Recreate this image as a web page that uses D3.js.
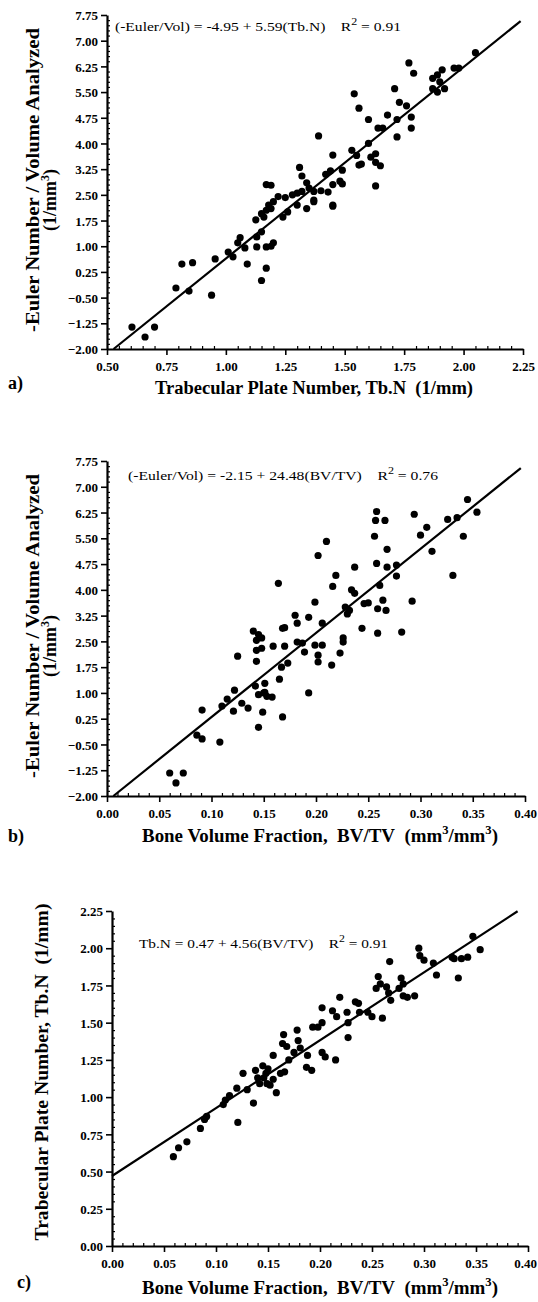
<!DOCTYPE html>
<html>
<head>
<meta charset="utf-8">
<script src="https://cdn.jsdelivr.net/npm/d3@7"></script>
<style>
  body { margin: 0; background: #fff; }
  svg text { font-family: "Liberation Serif", "Times New Roman", serif; fill: #000; }
  .tick text { font-weight: bold; font-size: 13px; }
  .lab { font-weight: bold; font-size: 18px; }
  .eq { font-size: 13px; }
</style>
</head>
<body>
<script>
// ---- data ----
// a) -Euler/Vol against Tb.N
var aTbN = [0.605,0.66,0.70,0.79,0.815,0.86,0.845,0.94,0.955,1.01,1.03,1.05,1.06,1.08,1.09,1.13,1.13,1.126,1.15,1.17,
  1.16,1.17,1.15,1.17,1.19,1.20,1.15,1.18,1.19,1.20,1.24,1.26,1.34,1.37,1.45,1.17,1.19,1.22,1.25,1.28,
  1.30,1.32,1.31,1.32,1.34,1.35,1.42,1.44,1.37,1.40,1.43,1.45,1.48,1.49,1.37,1.45,1.39,1.45,1.49,1.53,
  1.55,1.60,1.61,1.63,1.63,1.65,1.56,1.57,1.63,1.54,1.56,1.60,1.64,1.66,1.68,1.71,1.72,1.73,1.72,1.76,
  1.78,1.78,1.77,1.79,1.87,1.89,1.91,1.90,1.87,1.89,1.92,1.96,1.98,2.05,1.30];
var aEuler = [-1.36,-1.65,-1.36,-0.22,0.48,0.52,-0.31,-0.43,0.63,0.83,0.69,1.10,1.25,0.95,0.48,0.98,1.27,1.77,0.0,0.36,
  1.85,2.05,1.42,0.98,1.0,1.1,1.95,2.2,2.1,2.3,1.85,2.0,2.1,2.3,2.17,2.8,2.78,2.45,2.42,2.5,
  2.55,2.6,3.3,3.05,2.85,2.7,3.1,3.2,2.6,2.62,2.58,2.8,2.9,2.82,2.35,2.2,4.22,3.66,3.22,3.8,
  3.65,4.0,3.6,3.7,3.45,3.35,3.37,3.4,2.76,5.45,5.03,4.7,4.45,4.45,4.83,5.6,4.7,5.2,4.19,5.1,
  4.77,4.45,6.35,6.05,5.9,6.0,6.15,5.8,5.6,5.5,5.6,6.2,6.2,6.65,2.2];

// b) -Euler/Vol against BV/TV
var bBVTV = [0.060,0.066,0.073,0.086,0.091,0.091,0.108,0.110,0.115,0.121,0.122,0.125,0.129,0.135,0.143,0.143,0.142,0.145,0.150,0.153,
  0.145,0.149,0.143,0.140,0.145,0.151,0.151,0.158,0.165,0.167,0.173,0.168,0.193,0.159,0.170,0.182,0.187,0.189,0.199,0.206,
  0.202,0.202,0.215,0.223,0.226,0.226,0.244,0.259,0.282,0.168,0.170,0.180,0.182,0.193,0.206,0.199,0.164,0.228,0.230,0.232,
  0.246,0.250,0.259,0.264,0.267,0.234,0.237,0.216,0.219,0.237,0.202,0.210,0.258,0.268,0.277,0.277,0.261,0.292,0.256,0.268,
  0.258,0.257,0.266,0.294,0.306,0.300,0.311,0.326,0.335,0.345,0.354,0.341,0.331,0.148,0.148];
var bEuler = [-1.33,-1.62,-1.33,-0.23,-0.34,0.50,-0.43,0.62,0.82,0.47,1.08,2.07,0.70,0.56,2.24,1.92,1.20,0.95,1.0,0.9,
  0.0,0.44,2.53,2.8,2.7,1.28,1.02,0.88,1.4,1.75,1.87,0.30,1.0,2.36,2.36,2.48,2.45,2.19,2.39,2.39,
  2.10,1.90,1.81,2.16,2.48,2.6,2.88,2.74,2.77,2.88,2.9,3.26,3.03,3.2,3.03,3.64,4.19,3.5,3.3,3.4,
  3.6,3.62,3.45,3.7,3.4,4.0,3.9,4.1,4.42,4.66,5.0,5.41,4.77,4.66,4.72,4.4,4.13,3.67,5.56,5.18,
  6.28,6.02,6.02,6.2,5.82,5.59,5.12,6.05,6.1,6.63,6.26,5.56,4.42,2.3,2.6];

// c) Tb.N against BV/TV
var cBVTV = [0.059,0.064,0.072,0.085,0.091,0.089,0.121,0.107,0.109,0.113,0.120,0.130,0.136,0.142,0.149,0.152,0.158,0.126,0.138,0.145,
  0.148,0.150,0.146,0.155,0.162,0.166,0.165,0.164,0.168,0.178,0.179,0.181,0.188,0.187,0.192,0.202,0.205,0.215,0.193,0.198,
  0.202,0.202,0.212,0.216,0.219,0.227,0.227,0.226,0.234,0.237,0.238,0.246,0.250,0.260,0.267,0.256,0.258,0.254,0.264,0.266,
  0.268,0.278,0.280,0.276,0.280,0.284,0.291,0.295,0.296,0.300,0.309,0.312,0.327,0.329,0.336,0.342,0.333,0.347,0.354,0.140,
  0.155,0.170,0.175];
var cTbN = [0.60,0.66,0.70,0.79,0.87,0.85,0.83,0.95,0.98,1.01,1.06,1.05,0.96,1.09,1.09,1.08,1.03,1.16,1.18,1.21,
  1.16,1.19,1.13,1.28,1.16,1.17,1.42,1.36,1.34,1.45,1.38,1.33,1.28,1.20,1.18,1.30,1.27,1.25,1.47,1.47,
  1.50,1.60,1.58,1.54,1.67,1.50,1.40,1.57,1.64,1.63,1.57,1.57,1.54,1.53,1.91,1.81,1.76,1.73,1.74,1.70,
  1.65,1.80,1.76,1.73,1.68,1.67,1.68,2.0,1.95,1.92,1.90,1.82,1.94,1.93,1.93,1.94,1.80,2.08,1.99,1.13,
  1.12,1.25,1.30];

// regression coefficients printed on the figure
var fitA = [-4.95, 5.59], fitB = [-2.15, 24.48], fitC = [0.47, 4.56];

// tick values
var eulerTicks = [-2.00,-1.25,-0.50,0.25,1.00,1.75,2.50,3.25,4.00,4.75,5.50,6.25,7.00,7.75];
var tbnTicks = [0.50,0.75,1.00,1.25,1.50,1.75,2.00,2.25];
var bvtvTicks = [0.00,0.05,0.10,0.15,0.20,0.25,0.30,0.35,0.40];
var tbnYTicks = [0.00,0.25,0.50,0.75,1.00,1.25,1.50,1.75,2.00,2.25];

var svg = d3.select("body").append("svg")
    .attr("width", 538)
    .attr("height", 1302);
svg.append("rect").attr("width", 538).attr("height", 1302).attr("fill", "#fff");

// minor tick values between the majors
function minors(ticks, n) {
  var out = [];
  for (var i = 0; i < ticks.length - 1; i++) {
    var step = (ticks[i+1] - ticks[i]) / n;
    for (var k = 1; k < n; k++) out.push(ticks[i] + k * step);
  }
  return out;
}

function drawPanel(p) {
  var x = d3.scaleLinear().domain(p.xDom).range(p.xRange);
  var y = d3.scaleLinear().domain(p.yDom).range(p.yRange);
  var g = svg.append("g");

  // minor ticks point inwards
  g.append("g").attr("transform", "translate(0," + p.yRange[0] + ")")
    .call(d3.axisBottom(x).tickValues(minors(p.xTicks, 5)).tickSize(-3).tickFormat(""))
    .call(s => s.select(".domain").remove())
    .selectAll("line").attr("stroke-width", 1.2);
  g.append("g").attr("transform", "translate(" + p.xRange[0] + ",0)")
    .call(d3.axisLeft(y).tickValues(minors(p.yTicks, 5)).tickSize(-3).tickFormat(""))
    .call(s => s.select(".domain").remove())
    .selectAll("line").attr("stroke-width", 1.2);

  var xa = g.append("g").attr("transform", "translate(0," + p.yRange[0] + ")")
    .call(d3.axisBottom(x).tickValues(p.xTicks).tickSize(6).tickSizeOuter(0)
      .tickPadding(7).tickFormat(d3.format(".2f")));
  var ya = g.append("g").attr("transform", "translate(" + p.xRange[0] + ",0)")
    .call(d3.axisLeft(y).tickValues(p.yTicks).tickSize(6).tickSizeOuter(0)
      .tickPadding(3).tickFormat(d3.format(".2f")));
  [xa, ya].forEach(function(a) {
    a.select(".domain").attr("stroke-width", 2.2);
    a.selectAll(".tick line").attr("stroke-width", 1.6);
    a.selectAll(".tick text").attr("font-family", null).attr("font-size", null);
  });
  ya.selectAll(".tick text").attr("dy", "0.36em");
  // keep the last x label inside the page
  if (p.lastShift) {
    xa.selectAll(".tick text").filter(function(d, i, n) { return i === n.length - 1; })
      .attr("x", p.lastShift);
  }

  // fitted line
  var f = p.fit;
  var x0 = Math.max(p.xDom[0], (p.yDom[0] - f[0]) / f[1]);
  var x1 = p.lineEnd;
  g.append("line")
    .attr("x1", x(x0)).attr("y1", y(f[0] + f[1] * x0))
    .attr("x2", x(x1)).attr("y2", y(f[0] + f[1] * x1))
    .attr("stroke", "#000").attr("stroke-width", 2.2);

  // points
  g.selectAll(".dot").data(p.xs).enter().append("circle")
    .attr("cx", function(d) { return x(d); })
    .attr("cy", function(d, i) { return y(p.ys[i]); })
    .attr("r", 3.6).attr("fill", "#000");

  // equation
  var eq = g.append("text").attr("class", "eq")
    .attr("x", p.eqPos[0]).attr("y", p.eqPos[1])
    .attr("textLength", p.eqLen).attr("lengthAdjust", "spacingAndGlyphs");
  eq.append("tspan").text(p.eq + "\u00a0\u00a0\u00a0\u00a0R");
  eq.append("tspan").attr("dy", -6).attr("font-size", 10).text("2");
  eq.append("tspan").attr("dy", 6).text(" = " + p.r2);

  // x label
  var xl = g.append("text").attr("class", "lab")
    .attr("x", p.xLab[0]).attr("y", p.xLab[1])
    .attr("textLength", p.xLab[2]).attr("lengthAdjust", "spacingAndGlyphs");
  var prevSup = false;
  p.xLabParts.forEach(function(t) {
    if (t === "3") {
      xl.append("tspan").attr("dy", -8).attr("font-size", 12).text("3");
      prevSup = true;
    } else {
      var ts = xl.append("tspan").text(t);
      if (prevSup) ts.attr("dy", 8);
      prevSup = false;
    }
  });

  // y label (rotated)
  p.yLab.forEach(function(l) {
    var t = g.append("text").attr("class", "lab")
      .attr("transform", "translate(" + l.x + "," + l.y + ") rotate(-90)")
      .attr("text-anchor", "middle");
    l.parts.forEach(function(s) {
      if (s === "3") t.append("tspan").attr("dy", -7).attr("font-size", 12).text("3");
      else if (s === ")" && l.sup) t.append("tspan").attr("dy", 7).text(")");
      else t.append("tspan").text(s);
    });
    if (l.len) t.attr("textLength", l.len).attr("lengthAdjust", "spacingAndGlyphs");
  });

  g.append("text").attr("class", "lab").attr("x", p.tag[0]).attr("y", p.tag[1]).text(p.tag[2]);
}

var eulerLab = "-Euler Number / Volume Analyzed";

drawPanel({
  xDom: [0.5, 2.25], xRange: [107, 523], yDom: [-2, 7.75], yRange: [349, 15],
  xTicks: tbnTicks, yTicks: eulerTicks, fit: fitA, lineEnd: 2.24,
  xs: aTbN, ys: aEuler,
  eq: "(-Euler/Vol) = -4.95 + 5.59(Tb.N)", r2: "0.91", eqPos: [115, 31], eqLen: 286,
  xLab: [155, 394, 318], xLabParts: ["Trabecular Plate Number, Tb.N\u00a0\u00a0(1/mm)"],
  yLab: [{x: 39, y: 180, parts: [eulerLab], len: 304},
         {x: 56, y: 200, parts: ["(1/mm", "3", ")"], sup: true}],
  tag: [8, 389, "a)"]
});

drawPanel({
  xDom: [0, 0.4], xRange: [107, 525], yDom: [-2, 7.75], yRange: [796, 461],
  xTicks: bvtvTicks, yTicks: eulerTicks, fit: fitB, lineEnd: 0.396,
  xs: bBVTV, ys: bEuler,
  eq: "(-Euler/Vol) = -2.15 + 24.48(BV/TV)", r2: "0.76", eqPos: [128, 480], eqLen: 310,
  xLab: [142, 842, 356], xLabParts: ["Bone Volume Fraction,\u00a0\u00a0BV/TV\u00a0\u00a0(mm", "3", "/mm", "3", ")"],
  yLab: [{x: 39, y: 626, parts: [eulerLab], len: 304},
         {x: 56, y: 646, parts: ["(1/mm", "3", ")"], sup: true}],
  tag: [8, 842, "b)"]
});

drawPanel({
  xDom: [0, 0.4], xRange: [112, 528], yDom: [0, 2.25], yRange: [1246, 911],
  xTicks: bvtvTicks, yTicks: tbnYTicks, fit: fitC, lineEnd: 0.39,
  xs: cBVTV, ys: cTbN, lastShift: -3,
  eq: "Tb.N = 0.47 + 4.56(BV/TV)", r2: "0.91", eqPos: [139, 948], eqLen: 249,
  xLab: [142, 1294, 356], xLabParts: ["Bone Volume Fraction,\u00a0\u00a0BV/TV\u00a0\u00a0(mm", "3", "/mm", "3", ")"],
  yLab: [{x: 48, y: 1072, parts: ["Trabecular Plate Number, Tb.N\u00a0\u00a0(1/mm)"], len: 337}],
  tag: [17, 1288, "c)"]
});
</script>
</body>
</html>
